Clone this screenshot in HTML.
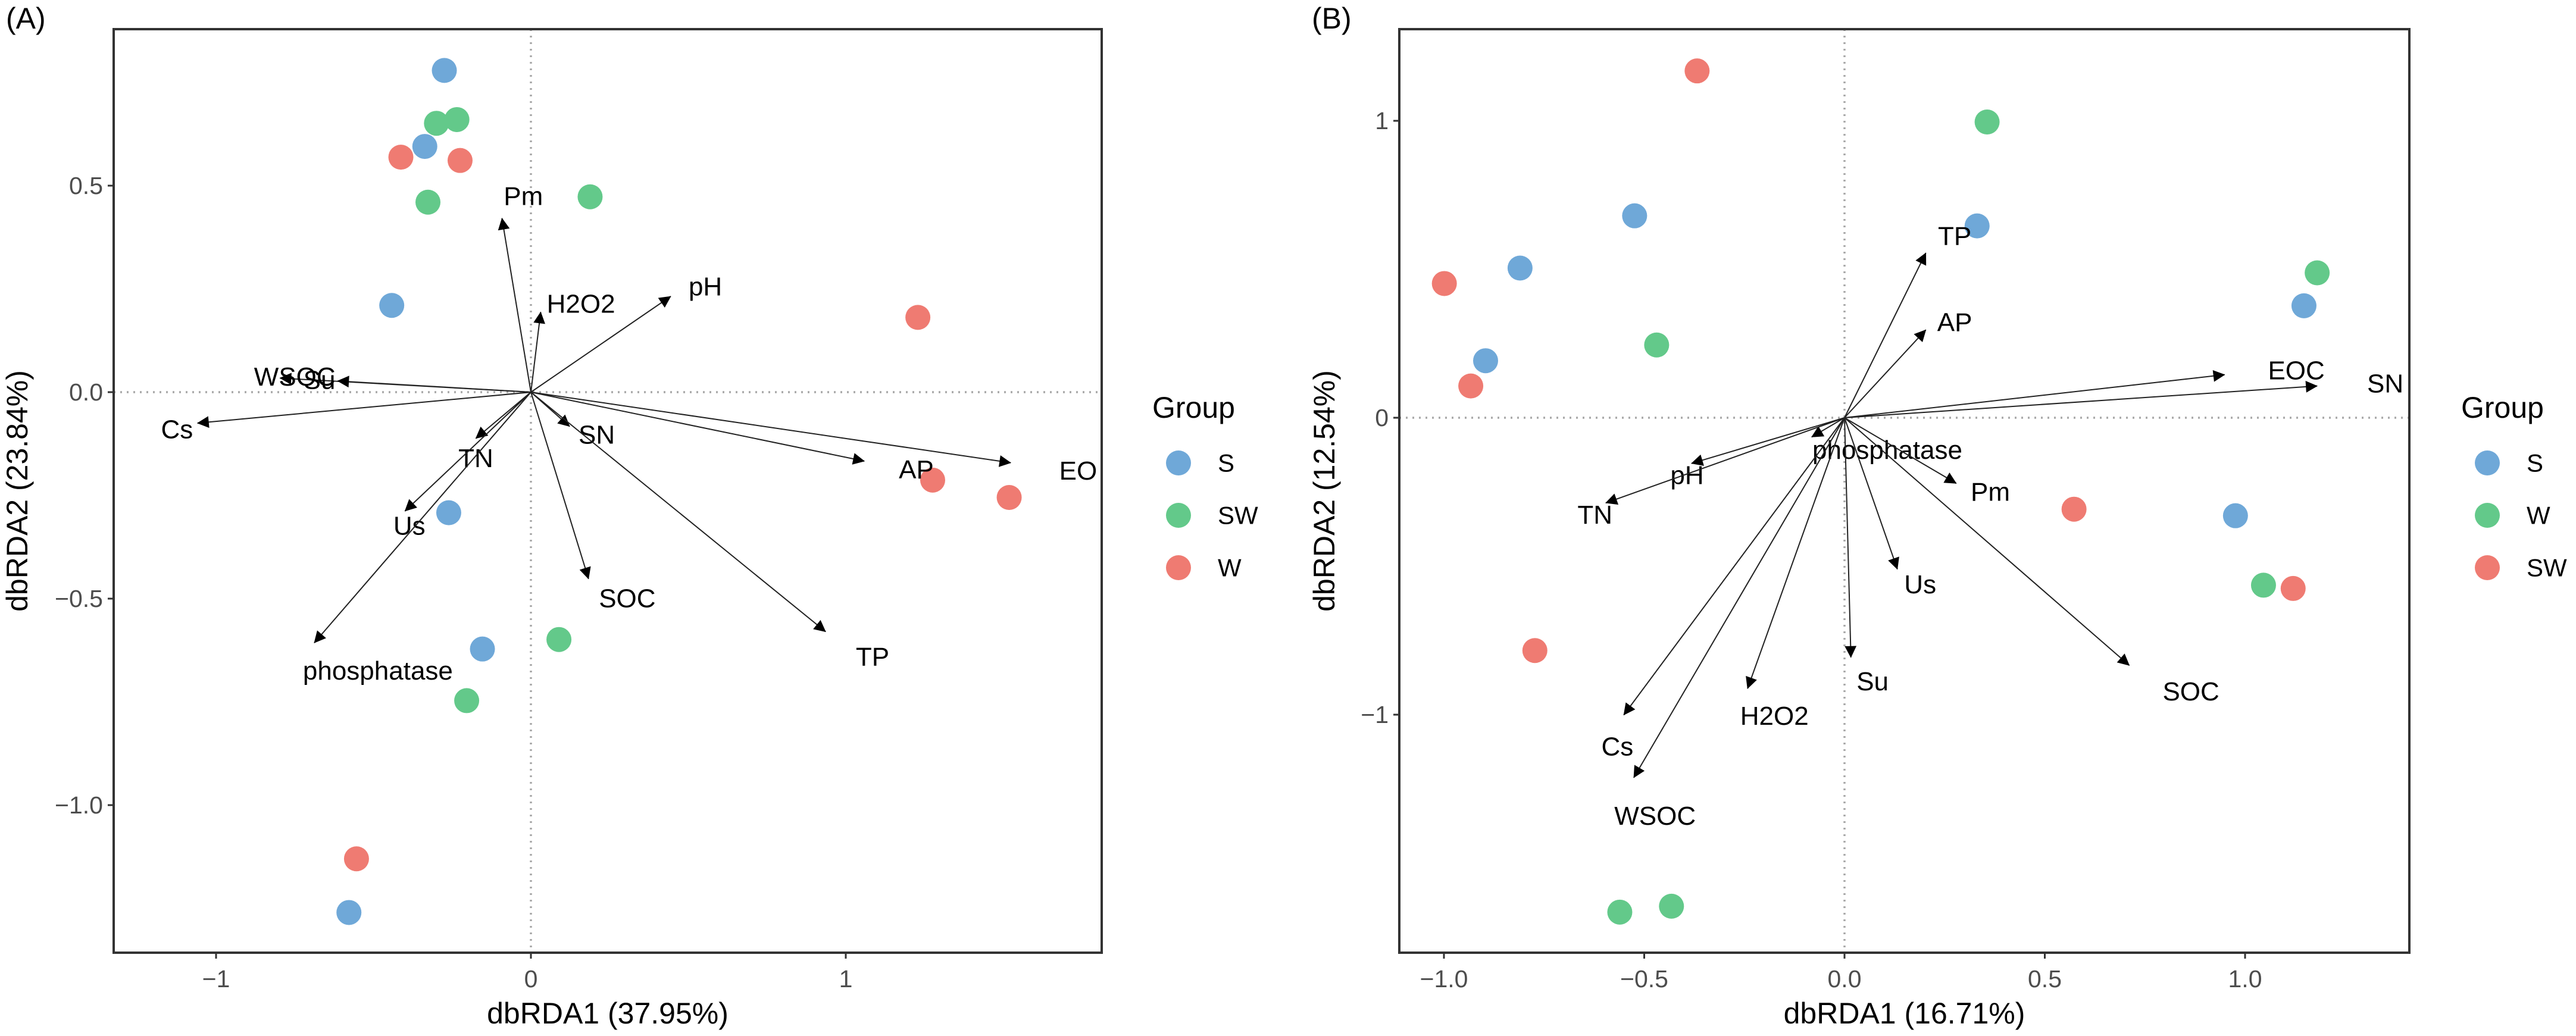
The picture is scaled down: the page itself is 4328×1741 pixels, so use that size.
<!DOCTYPE html>
<html><head><meta charset="utf-8"><style>
html,body{margin:0;padding:0;background:#fff}
svg{display:block}
text{font-family:"Liberation Sans",Arial,sans-serif}
</style></head>
<body>
<svg id="chart" width="4328" height="1741" viewBox="0 0 4328 1741" xmlns="http://www.w3.org/2000/svg">
<defs>
<marker id="ah" viewBox="0 0 10 10" refX="9" refY="5" markerWidth="9" markerHeight="9" markerUnits="userSpaceOnUse" orient="auto" style="overflow:visible">
<path d="M0,0 L10,5 L0,10 z" fill="#000" transform="scale(2.2) translate(-5.5,-2.7)"/>
</marker>
</defs>
</svg>
<script>
// Panel A data
const aPtX=[-0.275,-0.30,-0.235,-0.337,-0.413,-0.225,-0.327,0.188,-0.442,1.229,1.276,1.519,-0.261,-0.154,0.089,-0.204,-0.554,-0.578];
const aPtY=[0.779,0.651,0.660,0.595,0.569,0.561,0.46,0.473,0.21,0.181,-0.213,-0.255,-0.292,-0.622,-0.599,-0.747,-1.13,-1.26];
const aPtG=["S","SW","SW","S","W","W","SW","SW","S","W","W","W","S","S","SW","SW","W","S"];
const aVarNames=["Pm","H2O2","pH","WSOC","Su","Cs","SN","AP","EO","TN","Us","SOC","TP","phosphatase"];
const aVarX=[-0.092,0.031,0.444,-0.797,-0.614,-1.059,0.123,1.059,1.524,-0.175,-0.4,0.183,0.936,-0.688];
const aVarY=[0.421,0.194,0.232,0.034,0.027,-0.075,-0.083,-0.167,-0.171,-0.112,-0.288,-0.452,-0.58,-0.607];
const aLabX=[-0.024,0.159,0.554,-0.750,-0.672,-1.124,0.209,1.224,1.738,-0.175,-0.386,0.306,1.085,-0.486];
const aLabY=[0.474,0.213,0.255,0.037,0.029,-0.091,-0.104,-0.188,-0.191,-0.161,-0.324,-0.500,-0.641,-0.675];
const aXTicks=[-1,0,1];const aXTickLabels=["\u22121","0","1"];
const aYTicks=[0.5,0,-0.5,-1];const aYTickLabels=["0.5","0.0","\u22120.5","\u22121.0"];
const aGroups=["S","SW","W"];
// Panel B data
const bPtX=[-0.368,0.356,-0.524,0.331,-0.81,-0.999,1.18,1.147,-0.469,-0.896,-0.933,0.573,0.976,1.046,1.12,-0.773,-0.432,-0.561];
const bPtY=[1.168,0.996,0.68,0.646,0.504,0.452,0.488,0.377,0.245,0.192,0.107,-0.308,-0.33,-0.564,-0.575,-0.784,-1.645,-1.665];
const bPtG=["SW","W","S","S","S","SW","W","S","W","S","SW","SW","S","W","SW","SW","W","W"];
const bVarNames=["TP","AP","EOC","SN","phosphatase","pH","TN","Pm","Us","SOC","Su","H2O2","Cs","WSOC"];
const bVarX=[0.203,0.203,0.949,1.18,-0.082,-0.382,-0.596,0.279,0.132,0.711,0.016,-0.242,-0.551,-0.526];
const bVarY=[0.555,0.296,0.145,0.107,-0.065,-0.154,-0.287,-0.221,-0.51,-0.834,-0.807,-0.912,-1.001,-1.212];
const bLabX=[0.275,0.275,1.128,1.350,0.107,-0.393,-0.623,0.364,0.189,0.865,0.07,-0.175,-0.567,-0.473];
const bLabY=[0.611,0.321,0.158,0.114,-0.109,-0.194,-0.328,-0.25,-0.562,-0.923,-0.889,-1.005,-1.108,-1.342];
const bXTicks=[-1,-0.5,0,0.5,1];const bXTickLabels=["\u22121.0","\u22120.5","0.0","0.5","1.0"];
const bYTicks=[1,0,-1];const bYTickLabels=["1","0","\u22121"];
const bGroups=["S","W","SW"];

const COL={S:"#6fa8d8",SW:"#63c98a",W:"#ef7b72"};
const COLB={S:"#6fa8d8",W:"#63c98a",SW:"#ef7b72"};
const NS="http://www.w3.org/2000/svg";
const svg=document.getElementById('chart');
function mk(tag,attrs,parent){const e=document.createElementNS(NS,tag);for(const k in attrs)e.setAttribute(k,attrs[k]);(parent||svg).appendChild(e);return e;}

function panel(cfg){
  const g=mk('g',{});
  
  
  const sx=v=>cfg.x0+v*cfg.ux, sy=v=>cfg.y0-v*cfg.uy;
  const zx=mk('line',{x1:cfg.L,x2:cfg.R,y1:sy(0),y2:sy(0),stroke:'#a8a8a8','stroke-width':3.5,'stroke-dasharray':'3,8'},g);
  
  
  const zy=mk('line',{x1:sx(0),x2:sx(0),y1:cfg.T,y2:cfg.B,stroke:'#a8a8a8','stroke-width':3.5,'stroke-dasharray':'3,8'},g);
  
  
  cfg.px.forEach((v,i)=>{
    const c=mk('circle',{cx:sx(v),cy:sy(cfg.py[i]),r:21,fill:cfg.col[cfg.pg[i]]},g);
    
    
  });
  cfg.vn.forEach((n,i)=>{
    const l=mk('line',{x1:sx(0),y1:sy(0),x2:sx(cfg.vx[i]),y2:sy(cfg.vy[i]),stroke:'#222','stroke-width':2,'marker-end':'url(#ah)'},g);
    
    
    const t=mk('text',{x:sx(cfg.lx[i]),y:sy(cfg.ly[i]),'text-anchor':'middle','dominant-baseline':'central','font-size':44,fill:'#000'},g);
    t.textContent=n;
    
    
  });
  const f=mk('rect',{x:cfg.L,y:cfg.T,width:cfg.R-cfg.L,height:cfg.B-cfg.T,fill:'none',stroke:'#333','stroke-width':4},g);
  
  
  cfg.xt.forEach((v,i)=>{
    mk('line',{x1:sx(v),x2:sx(v),y1:cfg.B,y2:cfg.B+10,stroke:'#333','stroke-width':3},g);
    const t=mk('text',{x:sx(v),y:cfg.B+58,'text-anchor':'middle','font-size':41,fill:'#4d4d4d'},g);
    t.textContent=cfg.xtl[i];
    
    
  });
  cfg.yt.forEach((v,i)=>{
    mk('line',{x1:cfg.L-10,x2:cfg.L,y1:sy(v),y2:sy(v),stroke:'#333','stroke-width':3},g);
    const t=mk('text',{x:cfg.L-18,y:sy(v),'text-anchor':'end','dominant-baseline':'central','font-size':41,fill:'#4d4d4d'},g);
    t.textContent=cfg.ytl[i];
    
    
  });
  const xt=mk('text',{x:(cfg.L+cfg.R)/2,y:1720,'text-anchor':'middle','font-size':50,fill:'#000'},g);
  xt.textContent=cfg.xTitle;
  
  
  const yc=(cfg.T+cfg.B)/2;
  const yt=mk('text',{x:cfg.yTitleX,y:yc,'text-anchor':'middle','font-size':50,fill:'#000',transform:`rotate(-90 ${cfg.yTitleX} ${yc})`},g);
  yt.textContent=cfg.yTitle;
  
  
  const pl=mk('text',{x:cfg.panelX,y:48,'font-size':50,fill:'#000','font-family':'"Liberation Serif",serif'},g);
  pl.textContent=cfg.panelLabel;
  
  
  const lt=mk('text',{x:cfg.legX,y:702,'font-size':50,fill:'#000'},g);
  lt.textContent='Group';
  
  
  cfg.groups.forEach((gn,i)=>{
    const y=778+i*88;
    const c=mk('circle',{cx:cfg.legX+44,cy:y,r:21,fill:cfg.col[gn]},g);
    
    
    const t=mk('text',{x:cfg.legX+110,y:y,'dominant-baseline':'central','font-size':42,fill:'#000'},g);
    t.textContent=gn;
    
    
  });
}
panel({name:'panel-a',L:191,R:1851,T:49,B:1601,x0:892,ux:529,y0:659,uy:694,
  px:aPtX,py:aPtY,pg:aPtG,col:COL,vn:aVarNames,vx:aVarX,vy:aVarY,lx:aLabX,ly:aLabY,
  xt:aXTicks,xtl:aXTickLabels,yt:aYTicks,ytl:aYTickLabels,xTitle:'dbRDA1 (37.95%)',yTitle:'dbRDA2 (23.84%)',
  yTitleX:46,panelX:10,panelLabel:'(A)',legX:1936,groups:aGroups});
panel({name:'panel-b',L:2351,R:4048,T:49,B:1601,x0:3099,ux:673,y0:702,uy:499,
  px:bPtX,py:bPtY,pg:bPtG,col:COLB,vn:bVarNames,vx:bVarX,vy:bVarY,lx:bLabX,ly:bLabY,
  xt:bXTicks,xtl:bXTickLabels,yt:bYTicks,ytl:bYTickLabels,xTitle:'dbRDA1 (16.71%)',yTitle:'dbRDA2 (12.54%)',
  yTitleX:2242,panelX:2204,panelLabel:'(B)',legX:4135,groups:bGroups});
</script>
</body></html>
